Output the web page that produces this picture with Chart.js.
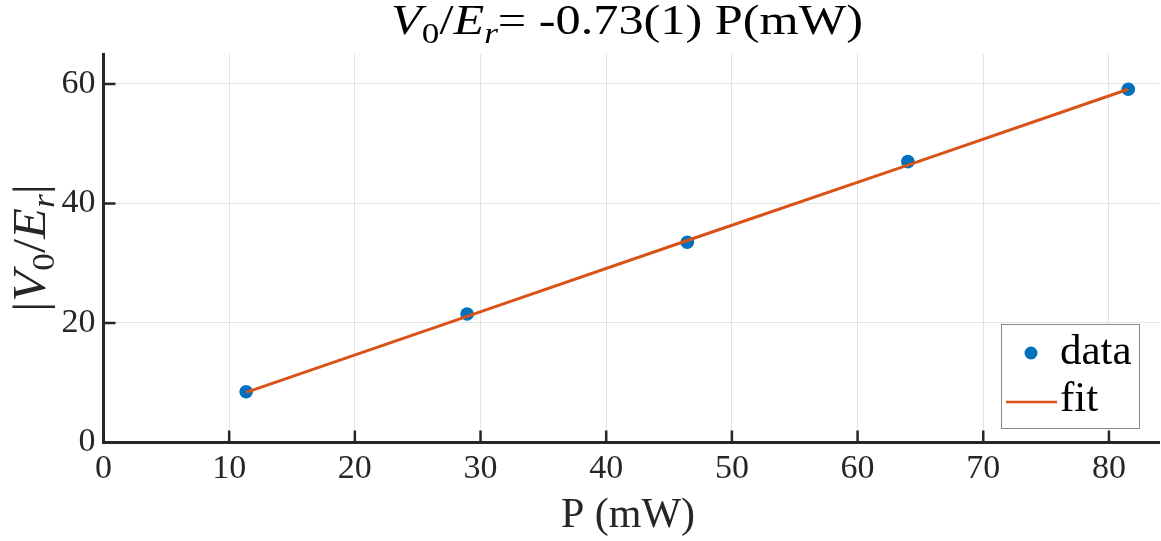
<!DOCTYPE html>
<html>
<head>
<meta charset="utf-8">
<script src="https://cdn.jsdelivr.net/npm/chart.js@4.4.1/dist/chart.umd.min.js"></script>
<style>
  html, body { margin: 0; padding: 0; background: #ffffff; overflow: hidden; }
  #wrap { width: 1166px; height: 541px; position: relative; }
</style>
</head>
<body>
<div id="wrap"><canvas id="fitChart"></canvas></div>
<script>
// values
const powerMW = [11.35, 28.93, 46.45, 64.0, 81.54];
const depth = [8.5, 21.5, 33.5, 47.0, 59.1];
const fitDepth = [8.4, 21.1, 33.8, 46.4, 59.1];
const xTicks = [0, 10, 20, 30, 40, 50, 60, 70, 80];
const yTicks = [0, 20, 40, 60];

const FONT = "'Liberation Serif', 'Times New Roman', serif";
const AXIS = '#262626';

function segFont(s, size) {
    const fs = s.sub ? size * 0.7 : size;
    return (s.italic ? 'italic ' : '') + fs + 'px ' + FONT;
}

// draws a line of mixed italic / subscript text centred on (cx, cy)
function drawRich(ctx, segs, size, cx, cy, sx) {
    sx = sx || 1;
    let total = 0;
    segs.forEach(s => {
        ctx.font = segFont(s, size);
        total += ctx.measureText(s.t).width;
    });
    ctx.save();
    ctx.translate(cx, cy);
    ctx.scale(sx, 1);
    let x = -total / 2;
    ctx.textBaseline = 'middle';
    ctx.textAlign = 'left';
    segs.forEach(s => {
        ctx.font = segFont(s, size);
        ctx.fillText(s.t, x, s.sub ? size * 0.28 : 0);
        x += ctx.measureText(s.t).width;
    });
    ctx.restore();
}

const decor = {
    id: 'decor',
    afterDraw(chart) {
        const ctx = chart.ctx;
        const area = chart.chartArea;
        const xs = chart.scales.x;
        const ys = chart.scales.y;
        ctx.save();

        // inward tick marks
        ctx.strokeStyle = AXIS;
        ctx.lineWidth = 2.5;
        ctx.beginPath();
        xTicks.forEach(v => {
            const px = xs.getPixelForValue(v);
            ctx.moveTo(px, area.bottom);
            ctx.lineTo(px, area.bottom - 12);
        });
        yTicks.forEach(v => {
            const py = ys.getPixelForValue(v);
            ctx.moveTo(area.left, py);
            ctx.lineTo(area.left + 12, py);
        });
        ctx.stroke();

        // title
        ctx.fillStyle = '#000000';
        drawRich(ctx, [
            { t: 'V', italic: true },
            { t: '0', sub: true },
            { t: '/' },
            { t: 'E', italic: true },
            { t: 'r', italic: true, sub: true },
            { t: '= -0.73(1) P(mW)' }
        ], 43, 627, 23, 1.17);

        // x axis label
        ctx.fillStyle = AXIS;
        drawRich(ctx, [{ t: 'P (mW)' }], 42, 628, 516);

        // y axis label
        ctx.save();
        ctx.translate(33, 248);
        ctx.rotate(-Math.PI / 2);
        drawRich(ctx, [
            { t: '|' },
            { t: 'V', italic: true },
            { t: '0', sub: true },
            { t: '/' },
            { t: 'E', italic: true },
            { t: 'r', italic: true, sub: true },
            { t: '|' }
        ], 46, 0, 0, 1.1);
        ctx.restore();

        // legend
        ctx.fillStyle = '#ffffff';
        ctx.fillRect(1001, 324, 139, 105);
        ctx.strokeStyle = '#8a8a8a';
        ctx.lineWidth = 1;
        ctx.strokeRect(1001.5, 324.5, 138, 104);
        ctx.fillStyle = '#0072BD';
        ctx.beginPath();
        ctx.arc(1031, 353, 6.5, 0, Math.PI * 2);
        ctx.fill();
        ctx.strokeStyle = '#D95319';
        ctx.lineWidth = 2.5;
        ctx.beginPath();
        ctx.moveTo(1006, 402);
        ctx.lineTo(1057, 402);
        ctx.stroke();
        ctx.fillStyle = '#000000';
        ctx.font = '43px ' + FONT;
        ctx.textAlign = 'left';
        ctx.textBaseline = 'middle';
        ctx.fillText('data', 1060, 353);
        ctx.fillText('fit', 1060, 400);

        ctx.restore();
    }
};

const ctx = document.getElementById('fitChart').getContext('2d');
new Chart(ctx, {
    type: 'scatter',
    data: {
        datasets: [{
            label: 'fit',
            data: powerMW.map((x, i) => ({ x: x, y: fitDepth[i] })),
            showLine: true,
            borderColor: '#D95319',
            borderWidth: 3,
            pointRadius: 0,
            order: 0
        }, {
            label: 'data',
            data: powerMW.map((x, i) => ({ x: x, y: depth[i] })),
            backgroundColor: '#0072BD',
            borderWidth: 0,
            pointRadius: 6.8,
            order: 1
        }]
    },
    options: {
        responsive: true,
        maintainAspectRatio: false,
        animation: false,
        layout: {
            padding: { top: 54, right: 0, left: 0, bottom: 0 }
        },
        plugins: {
            legend: { display: false },
            tooltip: { enabled: false }
        },
        scales: {
            x: {
                type: 'linear',
                min: 0,
                max: 84,
                afterBuildTicks: scale => { scale.ticks = xTicks.map(v => ({ value: v })); },
                afterFit: scale => { scale.height = 98.5; },
                ticks: {
                    autoSkip: false,
                    maxRotation: 0,
                    padding: 6,
                    color: AXIS,
                    font: { family: FONT, size: 34 }
                },
                grid: { color: '#e3e3e3', lineWidth: 1, drawTicks: false },
                border: { color: AXIS, width: 3 }
            },
            y: {
                type: 'linear',
                min: 0,
                max: 65,
                afterBuildTicks: scale => { scale.ticks = yTicks.map(v => ({ value: v })); },
                afterFit: scale => { scale.width = 103.5; },
                ticks: {
                    autoSkip: false,
                    padding: 8,
                    color: AXIS,
                    font: { family: FONT, size: 34 }
                },
                grid: { color: '#e3e3e3', lineWidth: 1, drawTicks: false },
                border: { color: AXIS, width: 3 }
            }
        }
    },
    plugins: [decor]
});
</script>
</body>
</html>
